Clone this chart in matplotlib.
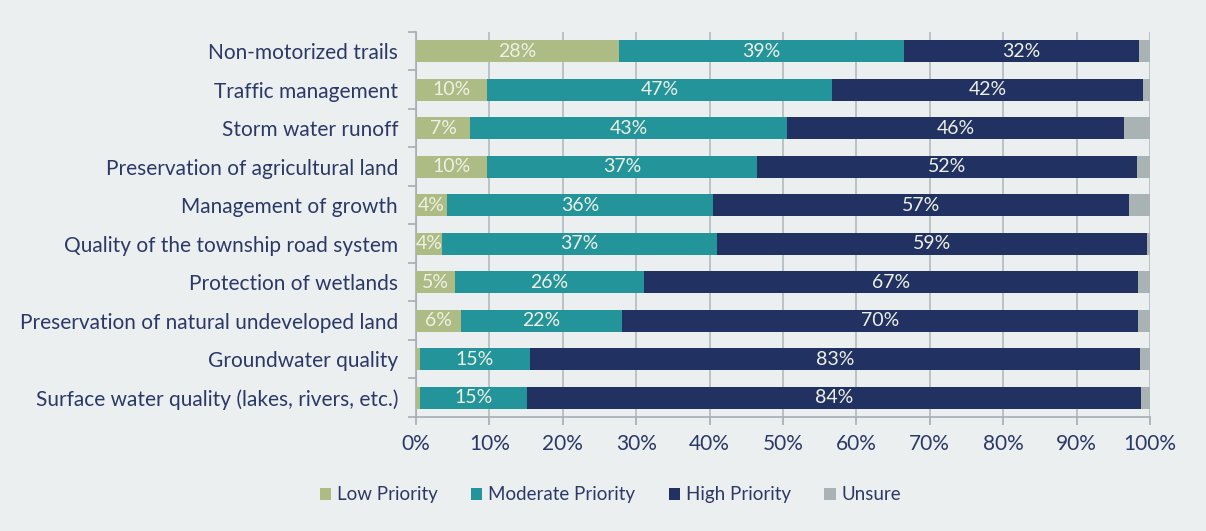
import numpy as np
import matplotlib.pyplot as plt
from matplotlib.ticker import FixedLocator, PercentFormatter

plt.rcParams['font.family'] = ['Lato', 'DejaVu Sans']

categories = [
    "Non-motorized trails",
    "Traffic management",
    "Storm water runoff",
    "Preservation of agricultural land",
    "Management of growth",
    "Quality of the township road system",
    "Protection of wetlands",
    "Preservation of natural undeveloped land",
    "Groundwater quality",
    "Surface water quality (lakes, rivers, etc.)",
]
low = [27.6, 9.7, 7.4, 9.7, 4.2, 3.6, 5.3, 6.1, 0.5, 0.5]
moderate = [38.9, 47.0, 43.1, 36.8, 36.3, 37.4, 25.8, 21.9, 15.0, 14.6]
high = [32.0, 42.3, 46.0, 51.7, 56.6, 58.6, 67.3, 70.4, 83.1, 83.7]
unsure = [1.5, 1.0, 3.5, 1.8, 2.9, 0.4, 1.6, 1.6, 1.4, 1.2]

series = [
    ("Low Priority", low, "#adbb84"),
    ("Moderate Priority", moderate, "#23949a"),
    ("High Priority", high, "#213262"),
    ("Unsure", unsure, "#a9b3b4"),
]

bg = "#eceff0"
text_col = "#2b3966"
line_col = "#a4acb3"

fig = plt.figure(figsize=(12.06, 5.31), dpi=100, facecolor=bg)
ax = fig.add_axes([0.345, 0.2147, 0.6085, 0.7253], facecolor=bg)

y = np.arange(len(categories))
left = np.zeros(len(categories))
for name, vals, color in series:
    vals = np.array(vals)
    bars = ax.barh(y, vals, left=left, height=0.57, color=color, label=name, zorder=3)
    if name != "Unsure":
        labels = [f"{v:.0f}%" if v >= 2 else "" for v in vals]
        ax.bar_label(bars, labels=labels, label_type="center", color="#eef0e4",
                     fontsize=14)
    left += vals

ax.set_ylim(len(categories) - 0.5, -0.5)
ax.set_xlim(0, 100)
ax.set_yticks(y)
ax.set_yticklabels(categories, fontsize=15, color=text_col)
ax.yaxis.set_minor_locator(FixedLocator(np.arange(-0.5, len(categories), 1)))
ax.tick_params(axis="y", which="major", length=0, pad=13)
ax.tick_params(axis="y", which="minor", length=6, color=line_col, width=1.2)

ax.set_xticks(np.arange(0, 101, 10))
ax.xaxis.set_major_formatter(PercentFormatter(decimals=0))
ax.tick_params(axis="x", length=6, color=line_col, width=1.2, labelsize=15,
               labelcolor=text_col, pad=6)
ax.grid(axis="x", color="#b3bbbf", linewidth=1.2, zorder=0)

for side in ["top", "right"]:
    ax.spines[side].set_visible(False)
for side in ["left", "bottom"]:
    ax.spines[side].set_color(line_col)
    ax.spines[side].set_linewidth(1.2)

fig.legend(loc="center", bbox_to_anchor=(0.506, 0.068), ncol=4, frameon=False,
           fontsize=13.5, labelcolor=text_col, handlelength=0.6, handleheight=0.6,
           handletextpad=0.3, columnspacing=1.8)

fig.savefig("out.png", dpi=100, facecolor=bg)
